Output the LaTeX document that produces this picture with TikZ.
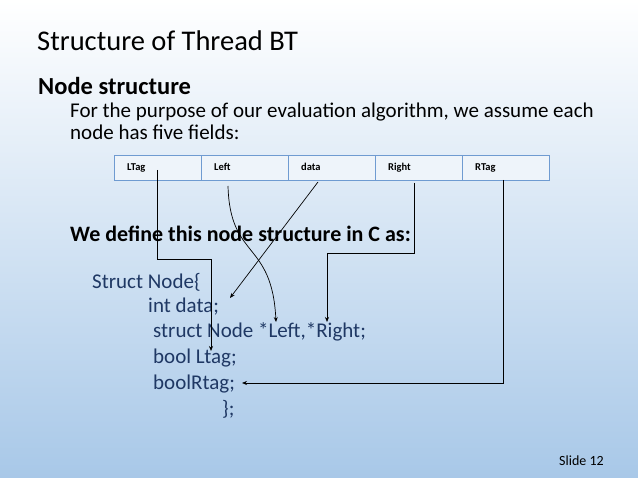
\documentclass[tikz,border=0pt]{standalone}
\usepackage{fontspec}
\setmainfont{Carlito}
\usetikzlibrary{arrows.meta}
\definecolor{codeblue}{HTML}{1F3864}
\definecolor{bgblue}{HTML}{A8C8E8}
\definecolor{cellline}{HTML}{6F9BD1}
\begin{document}
\begin{tikzpicture}[x=1pt,y=-1pt,
  cell/.style={draw=cellline,line width=0.8pt,fill=white!80!bgblue,minimum width=87pt,minimum height=25pt,anchor=north west,inner sep=0pt},
  lbl/.style={anchor=west,font=\fontsize{10.5}{12}\selectfont\bfseries,inner sep=0pt,text height=0.7em,text depth=0.2em},
  code/.style={anchor=west,text=codeblue,font=\fontsize{21}{24}\selectfont,inner sep=0pt,text height=0.7em,text depth=0.2em},
  body/.style={anchor=west,font=\fontsize{21}{24}\selectfont,inner sep=0pt,text height=0.7em,text depth=0.2em},
  conn/.style={-{Stealth[length=5pt,width=4pt]},line width=0.7pt}]
\shade[top color=white,bottom color=bgblue] (0,0) rectangle (638,478);
\useasboundingbox (0,0) rectangle (638,478);
\node[anchor=west,font=\fontsize{28.5}{32}\selectfont,inner sep=0pt,text height=0.7em,text depth=0.2em] (title) at (37,48) {Structure of Thread BT};
\node[anchor=west,font=\fontsize{24.5}{28}\selectfont\bfseries,inner sep=0pt,text height=0.7em,text depth=0.2em] (ns) at (38,92) {Node structure};
\node[body] (b1) at (70,115) {For the purpose of our evaluation algorithm, we assume each};
\node[body] (b2) at (70,137) {node has five fields:};
\foreach \i/\t [count=\k from 0] in {c1/LTag,c2/Left,c3/data,c4/Right,c5/RTag}{
  \node[cell] (\i) at ({114+87*\k},155) {};
  \node[lbl] (\i t) at ({127+87*\k},168) {\t};
}
\node[body,font=\fontsize{22}{26}\selectfont\bfseries] (def) at (70,239) {We define this node structure in C as:};
\node[code] (s1) at (92,286) {Struct Node\{};
\node[code] (s2) at (148,310) {int data;};
\node[code] (s3) at (153,335) {struct Node *Left,*Right;};
\node[code] (s4) at (153,361) {bool Ltag;};
\node[code] (s5) at (153,387) {boolRtag;};
\node[code] (s6) at (222,413) {\};};
\node[anchor=west,font=\fontsize{14}{16}\selectfont,inner sep=0pt] (slide) at (559,461) {Slide 12};
\coordinate (a1) at (157,170);
\coordinate (e1) at (211,351);
\draw[conn] (a1) -- (157,259) -- (211,259) -- (e1);
\coordinate (a2) at (228,186);
\coordinate (e2) at (276,322);
\draw[conn] (a2) .. controls (230,260) and (272,240) .. (e2);
\coordinate (a3) at (318,182);
\coordinate (e3) at (230,298);
\draw[conn] (a3) -- (e3);
\coordinate (a4) at (414,183);
\coordinate (e4) at (327,322);
\draw[conn] (a4) -- (414,253) -- (327,253) -- (e4);
\coordinate (a5) at (503,180);
\coordinate (e5) at (242,383);
\draw[conn] (a5) -- (503,383) -- (e5);
\end{tikzpicture}
\end{document}
